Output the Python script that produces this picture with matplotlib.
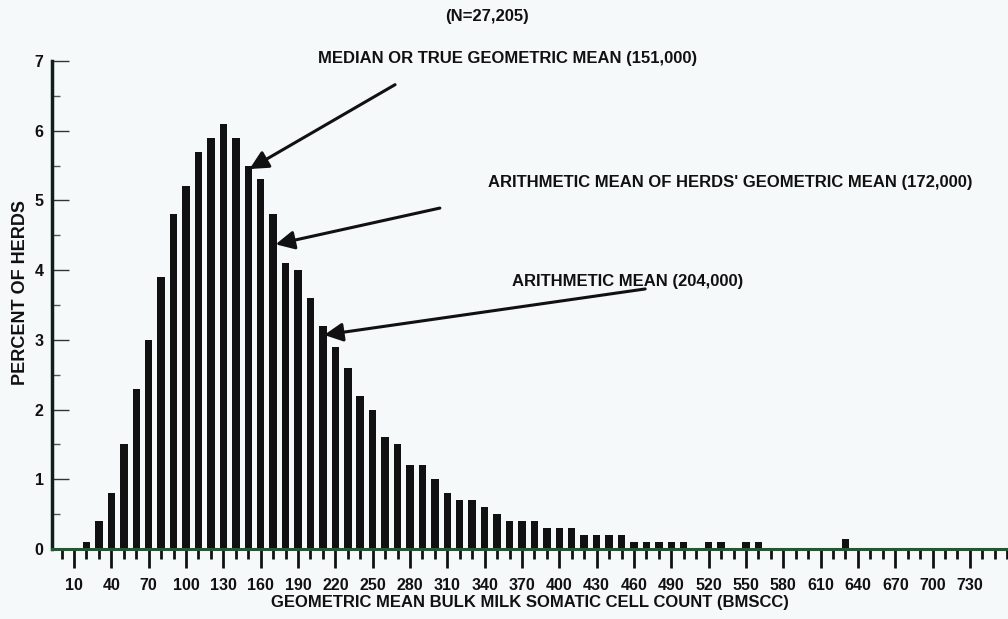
import matplotlib.pyplot as plt
from matplotlib.ticker import MultipleLocator, FixedLocator

# datos: porcentaje de hatos por clase de BMSCC (miles de celulas/ml)
clases = [20, 30, 40, 50, 60, 70, 80, 90, 100, 110, 120, 130, 140, 150, 160, 170, 180, 190,
          200, 210, 220, 230, 240, 250, 260, 270, 280, 290, 300, 310, 320, 330, 340, 350,
          360, 370, 380, 390, 400, 410, 420, 430, 440, 450, 460, 470, 480, 490, 500, 510,
          520, 530, 540, 550, 560, 570, 580, 590, 600, 610, 620, 630]
porcentaje = [0.1, 0.4, 0.8, 1.5, 2.3, 3.0, 3.9, 4.8, 5.2, 5.7, 5.9, 6.1, 5.9, 5.5, 5.3, 4.8, 4.1, 4.0,
              3.6, 3.2, 2.9, 2.6, 2.2, 2.0, 1.6, 1.5, 1.2, 1.2, 1.0, 0.8, 0.7, 0.7, 0.6, 0.5,
              0.4, 0.4, 0.4, 0.3, 0.3, 0.3, 0.2, 0.2, 0.2, 0.2, 0.1, 0.1, 0.1, 0.1, 0.1, 0.0,
              0.1, 0.1, 0.0, 0.1, 0.1, 0.0, 0.0, 0.0, 0.0, 0.0, 0.0, 0.15]
etiquetas_x = list(range(10, 731, 30))

# anotaciones: (texto, punta de flecha, cola de flecha, posicion del texto)
notas = [
    ("MEDIAN OR TRUE GEOMETRIC MEAN (151,000)", (151, 5.45), (268, 6.66), (206, 7.04)),
    ("ARITHMETIC MEAN OF HERDS' GEOMETRIC MEAN (172,000)", (172, 4.37), (304, 4.89), (343, 5.25)),
    ("ARITHMETIC MEAN (204,000)", (211, 3.07), (469, 3.73), (362, 3.84)),
]

fondo = "#f6f9f9"
fuente_nota = ["Liberation Sans Narrow", "Liberation Sans", "DejaVu Sans"]
fuente = ["Liberation Sans", "DejaVu Sans"]

fig = plt.figure(figsize=(10.08, 6.19), dpi=100, facecolor=fondo)
ax = fig.add_axes([0.0516, 0.1131, 0.9484, 0.7884], facecolor=fondo)

ax.bar(clases, porcentaje, width=6, color="#111111", zorder=2)

ax.set_xlim(-7.7, 760.6)
ax.set_ylim(0, 7)

# ejes
ax.spines["top"].set_visible(False)
ax.spines["right"].set_visible(False)
ax.spines["left"].set_linewidth(2.5)
ax.spines["left"].set_color("#102018")
ax.spines["bottom"].set_linewidth(2.2)
ax.spines["bottom"].set_color("#1f5a32")
ax.spines["bottom"].set_zorder(3)

ax.xaxis.set_major_locator(FixedLocator(etiquetas_x))
ax.xaxis.set_minor_locator(MultipleLocator(10))
ax.set_xticklabels([str(v) for v in etiquetas_x])
ax.tick_params(axis="x", which="major", direction="out", length=14, width=2, color="#111111", pad=7)
ax.tick_params(axis="x", which="minor", direction="out", length=7, width=2, color="#111111")

ax.yaxis.set_major_locator(MultipleLocator(1))
ax.yaxis.set_minor_locator(MultipleLocator(0.5))
ax.tick_params(axis="y", which="major", direction="in", length=12, width=1, color="#333333", pad=6)
ax.tick_params(axis="y", which="minor", direction="in", length=6, width=1, color="#555555")

for t in ax.get_xticklabels() + ax.get_yticklabels():
    t.set_fontfamily(fuente)
    t.set_fontweight("bold")
    t.set_fontsize(11.5)
    t.set_color("#111111")

ax.set_xlabel("GEOMETRIC MEAN BULK MILK SOMATIC CELL COUNT (BMSCC)", family=fuente,
              fontweight="bold", fontsize=12, color="#111111", labelpad=1)
ax.set_ylabel("PERCENT OF HERDS", family=fuente, fontweight="bold", fontsize=13,
              color="#111111", labelpad=3)
ax.yaxis.set_label_coords(-0.036, 0.525)
ax.yaxis.label.set_va("bottom")
ax.yaxis.label.set_position((-0.036, 0.525))
ax.yaxis.set_label_coords(-0.024, 0.525)

# titulo con el numero de hatos
ax.text(342, 7.64, "(N=27,205)", family=fuente_nota, fontweight="bold", fontsize=12,
        ha="center", va="center", color="#111111", clip_on=False)

# flechas y textos de las medias
for texto, punta, cola, pos in notas:
    ax.annotate("", xy=punta, xytext=cola, annotation_clip=False,
                arrowprops=dict(arrowstyle="-|>", lw=2.2, color="#111111",
                                mutation_scale=28, shrinkA=0, shrinkB=0))
    ax.text(pos[0], pos[1], texto, family=fuente_nota, fontweight="bold", fontsize=12,
            ha="left", va="center", color="#111111", clip_on=False)

fig.savefig("out.png", dpi=100, facecolor=fondo)
